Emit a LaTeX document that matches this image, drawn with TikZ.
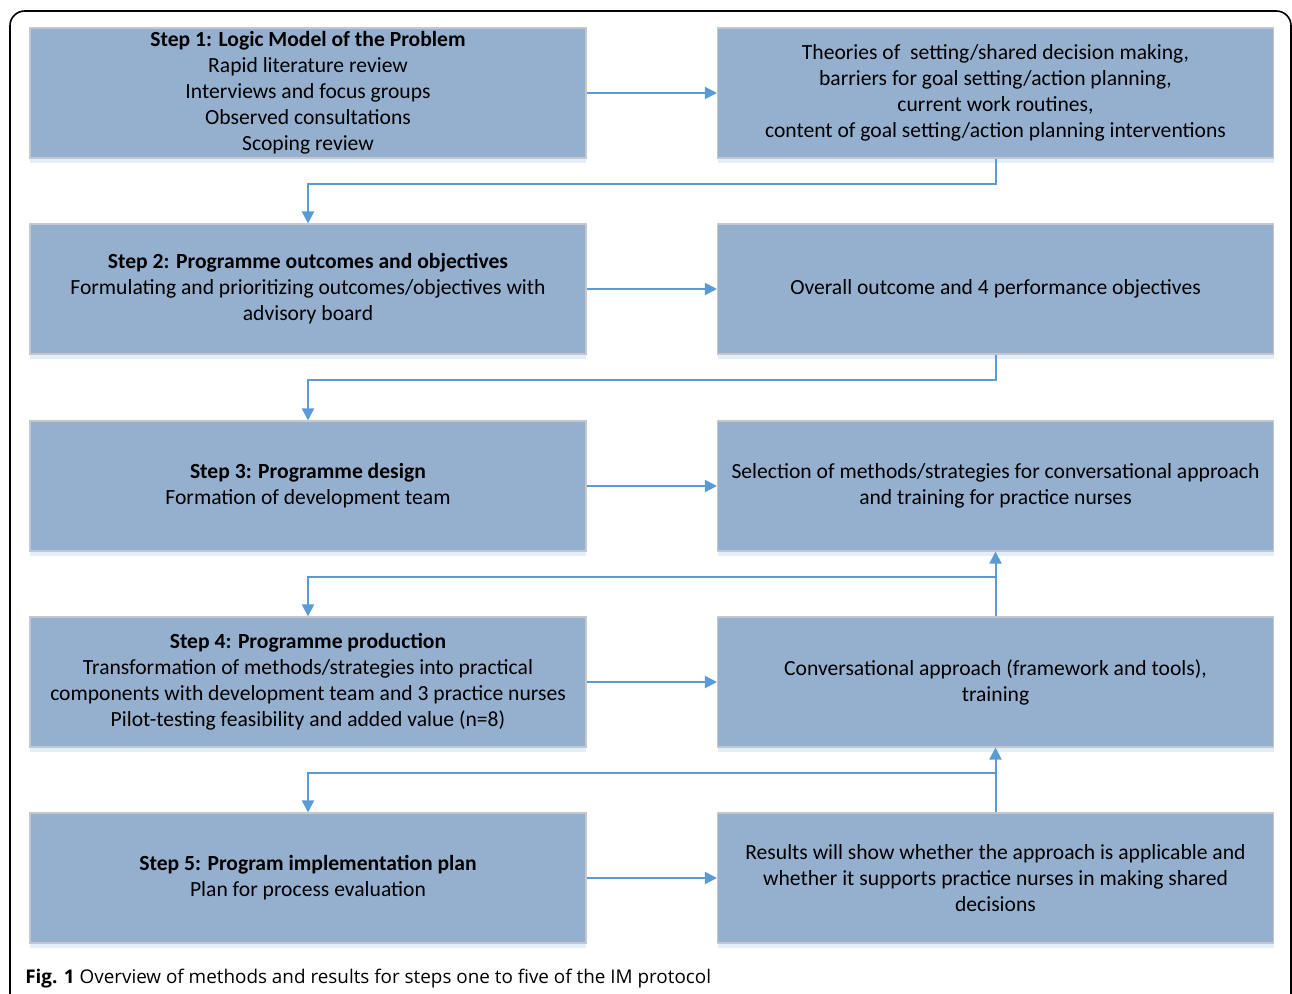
\documentclass[tikz,border=0pt]{standalone}
\usepackage{fontspec}
\setmainfont{Carlito}
\newfontfamily\capfont{Open Sans}
\usetikzlibrary{arrows.meta,shadows}
\definecolor{boxblue}{HTML}{95B0CF}
\definecolor{boxedge}{HTML}{C4C8CE}
\definecolor{linkblue}{HTML}{5B9BD5}
\definecolor{glowblue}{HTML}{E4EEF8}
\begin{document}
\begin{tikzpicture}[x=0.75pt, y=-0.75pt,
	stepbox/.style={draw=boxedge, line width=0.8pt, fill=boxblue, minimum width=417pt, minimum height=97.5pt, inner sep=2pt, align=center, font=\fontsize{16.2}{19.5}\selectfont,
		drop shadow={shadow xshift=0pt, shadow yshift=-4pt, fill=glowblue, opacity=1}},
	link/.style={draw=linkblue, line width=1.5pt, -{Triangle[width=9pt,length=9pt]}}]
	\useasboundingbox (0,0) rectangle (1292,993);
	\clip (0,0) rectangle (1292,993);
	\draw[line width=1.2pt, rounded corners=11pt] (10,11) rectangle (1291,1020);
	% left column: steps
	\node[stepbox] (l1) at (308,93) {\textbf{Step 1: Logic Model of the Problem}\\Rapid literature review\\Interviews and focus groups\\Observed consultations\\Scoping review};
	\node[stepbox] (l2) at (308,289) {\textbf{Step 2: Programme outcomes and objectives}\\Formulating and prioritizing outcomes/objectives with\\advisory board};
	\node[stepbox] (l3) at (308,486) {\textbf{Step 3: Programme design}\\Formation of development team};
	\node[stepbox] (l4) at (308,682) {\textbf{Step 4: Programme production}\\Transformation of methods/strategies into practical\\components with development team and 3 practice nurses\\Pilot-testing feasibility and added value (n=8)};
	\node[stepbox] (l5) at (308,878) {\textbf{Step 5: Program implementation plan}\\Plan for process evaluation};
	% right column: results
	\node[stepbox] (r1) at (995.5,93) {Theories of \ setting/shared decision making,\\barriers for goal setting/action planning,\\current work routines,\\content of goal setting/action planning interventions};
	\node[stepbox] (r2) at (995.5,289) {Overall outcome and 4 performance objectives};
	\node[stepbox] (r3) at (995.5,486) {Selection of methods/strategies for conversational approach\\and training for practice nurses};
	\node[stepbox] (r4) at (995.5,682) {Conversational approach (framework and tools),\\training};
	\node[stepbox] (r5) at (995.5,878) {Results will show whether the approach is applicable and\\whether it supports practice nurses in making shared\\decisions};
	% horizontal links
	\draw[link] (l1) -- (r1);
	\draw[link] (l2) -- (r2);
	\draw[link] (l3) -- (r3);
	\draw[link] (l4) -- (r4);
	\draw[link] (l5) -- (r5);
	% elbow links
	\draw[link] (r1.south) -- ++(0,25) -| (l2.north);
	\draw[link] (r2.south) -- ++(0,25) -| (l3.north);
	\draw[link] (r4.north) -- (r3.south);
	\draw[link] (r5.north) -- (r4.south);
	\coordinate (j4) at ([yshift=-18.75pt]r3.south);
	\coordinate (j5) at ([yshift=-18.75pt]r4.south);
	\draw[link] (j4) -| (l4.north);
	\draw[link] (j5) -| (l5.north);
	% caption
	\node[anchor=base west, inner sep=0pt, font=\capfont\fontsize{14.15}{16}\selectfont] (cap) at (25,983) {\textbf{Fig. 1} Overview of methods and results for steps one to five of the IM protocol};
\end{tikzpicture}
\end{document}
